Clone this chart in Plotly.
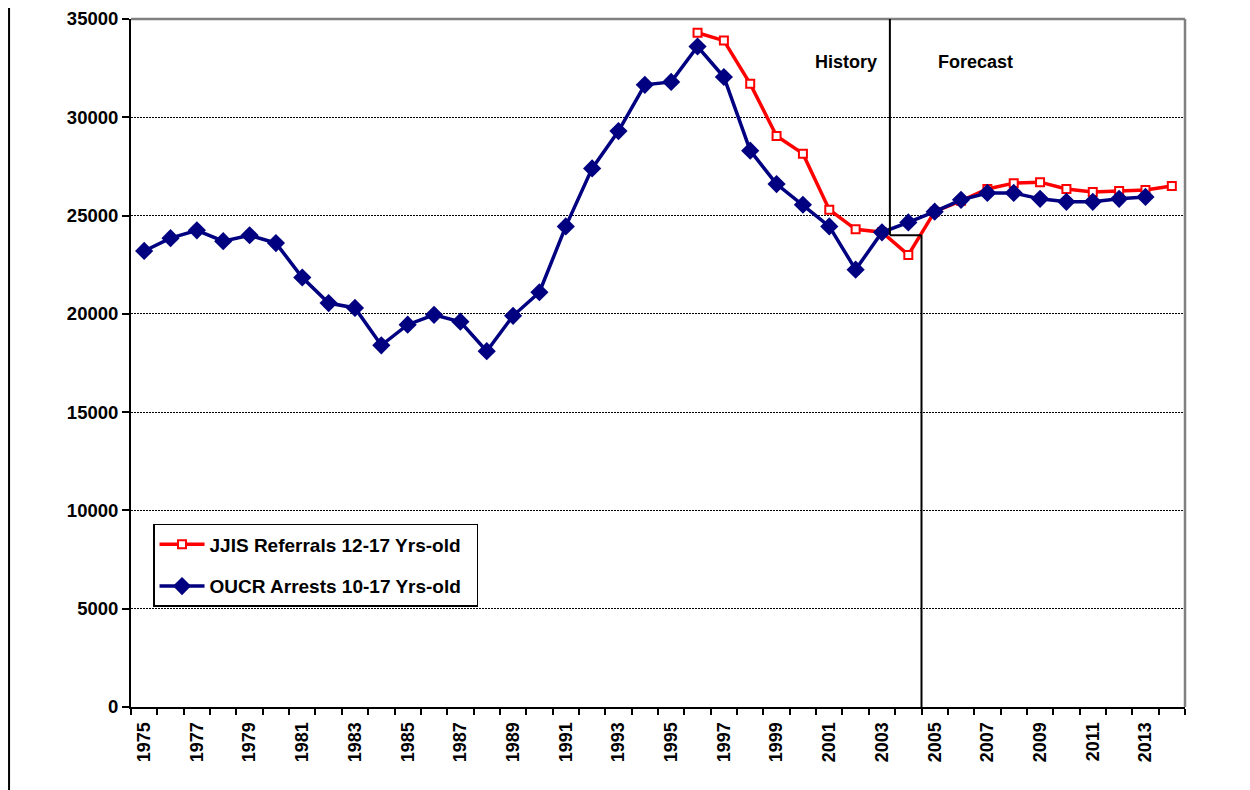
import plotly.graph_objects as go

years = list(range(1975, 2015))

oucr_years = list(range(1975, 2014))
oucr_arrests = [23200, 23850, 24250, 23700, 24000, 23600, 21850, 20550, 20300, 18400,
                19450, 19950, 19600, 18100, 19900, 21100, 24450, 27400, 29300, 31650,
                31800, 33600, 32050, 28300, 26600, 25550, 24450, 22250, 24150, 24650,
                25200, 25800, 26150, 26150, 25850, 25700, 25700, 25850, 25950]

jjis_years = list(range(1996, 2015))
jjis_referrals = [34300, 33900, 31700, 29050, 28150, 25300, 24300, 24150, 23000, 25200,
                  25750, 26350, 26650, 26700, 26350, 26200, 26250, 26300, 26500]

label_years = list(range(1975, 2014, 2))
y_ticks = list(range(0, 35001, 5000))

FONT = "Liberation Sans, Arial, sans-serif"

fig = go.Figure()

fig.add_trace(go.Scatter(
    x=jjis_years, y=jjis_referrals, mode="lines+markers",
    name="<b>JJIS Referrals 12-17 Yrs-old</b>\u00a0\u00a0", legendgroup="a",
    line=dict(color="#FF0000", width=3.5),
    marker=dict(symbol="square", size=8, color="white", line=dict(color="#FF0000", width=2)),
))
fig.add_trace(go.Scatter(
    x=oucr_years, y=oucr_arrests, mode="lines+markers",
    name="<b>OUCR Arrests 10-17 Yrs-old</b>\u00a0\u00a0", legendgroup="b",
    line=dict(color="#000080", width=3.5),
    marker=dict(symbol="diamond", size=14, color="#000080"),
))

shapes = [
    # plot border top & right (gray)
    dict(type="line", xref="paper", yref="paper", x0=0, x1=1, y0=1, y1=1,
         line=dict(color="#808080", width=2.5)),
    dict(type="line", xref="paper", yref="paper", x0=1, x1=1, y0=0, y1=1,
         line=dict(color="#808080", width=2.5)),
    # history/forecast divider
    dict(type="line", xref="x", yref="y", x0=2003.3, x1=2003.3, y0=35000, y1=24000,
         line=dict(color="black", width=2)),
    dict(type="line", xref="x", yref="y", x0=2003.3, x1=2004.5, y0=24000, y1=24000,
         line=dict(color="black", width=2)),
    dict(type="line", xref="x", yref="y", x0=2004.5, x1=2004.5, y0=24000, y1=0,
         line=dict(color="black", width=2)),
    # left page border
    dict(type="line", xref="paper", yref="paper", x0=-0.1157, x1=-0.1157, y0=-0.2, y1=1.03,
         line=dict(color="black", width=2)),
]

annotations = [
    dict(text="<b>History</b>", xref="paper", yref="paper", x=0.6784, y=0.938,
         xanchor="center", yanchor="middle",
         showarrow=False, font=dict(family=FONT, size=18, color="black")),
    dict(text="<b>Forecast</b>", xref="paper", yref="paper", x=0.8015, y=0.938,
         xanchor="center", yanchor="middle",
         showarrow=False, font=dict(family=FONT, size=18, color="black")),
]

fig.update_layout(
    width=1250, height=790,
    margin=dict(l=123, r=73, t=11, b=91, autoexpand=False),
    paper_bgcolor="white", plot_bgcolor="white",
    font=dict(family=FONT, size=18, color="black"),
    showlegend=True,
    legend=dict(x=0.0209, y=0.2660, xanchor="left", yanchor="top",
                bgcolor="white", bordercolor="black", borderwidth=1.5,
                font=dict(family=FONT, size=19, color="black"),
                tracegroupgap=14, itemwidth=45),
    shapes=shapes,
    annotations=annotations,
    xaxis=dict(
        range=[1974.5, 2014.5], tickmode="array", tickvals=label_years,
        ticktext=[f"<b>{y}</b>" for y in label_years], tickangle=-90,
        ticks="", showgrid=False, zeroline=False, automargin=False,
        showline=True, linecolor="black", linewidth=2,
        ticklabelstandoff=6,
        tickfont=dict(family=FONT, size=18, color="black"),
        minor=dict(tickmode="array", tickvals=[y - 0.5 for y in years] + [2014.5],
                   ticks="outside", ticklen=6, tickwidth=2, tickcolor="black", showgrid=False),
    ),
    yaxis=dict(
        range=[0, 35000], tickmode="array", tickvals=y_ticks,
        ticktext=[f"<b>{v}</b>" for v in y_ticks],
        ticks="outside", ticklen=7, tickwidth=2, tickcolor="black",
        showgrid=True, gridcolor="black", gridwidth=1, griddash="2px,1px",
        zeroline=False, showline=True, linecolor="black", linewidth=2, automargin=False,
        ticklabeloverflow="allow",
        tickfont=dict(family=FONT, size=18.5, color="black"),
    ),
)

fig.write_html("out.html")
